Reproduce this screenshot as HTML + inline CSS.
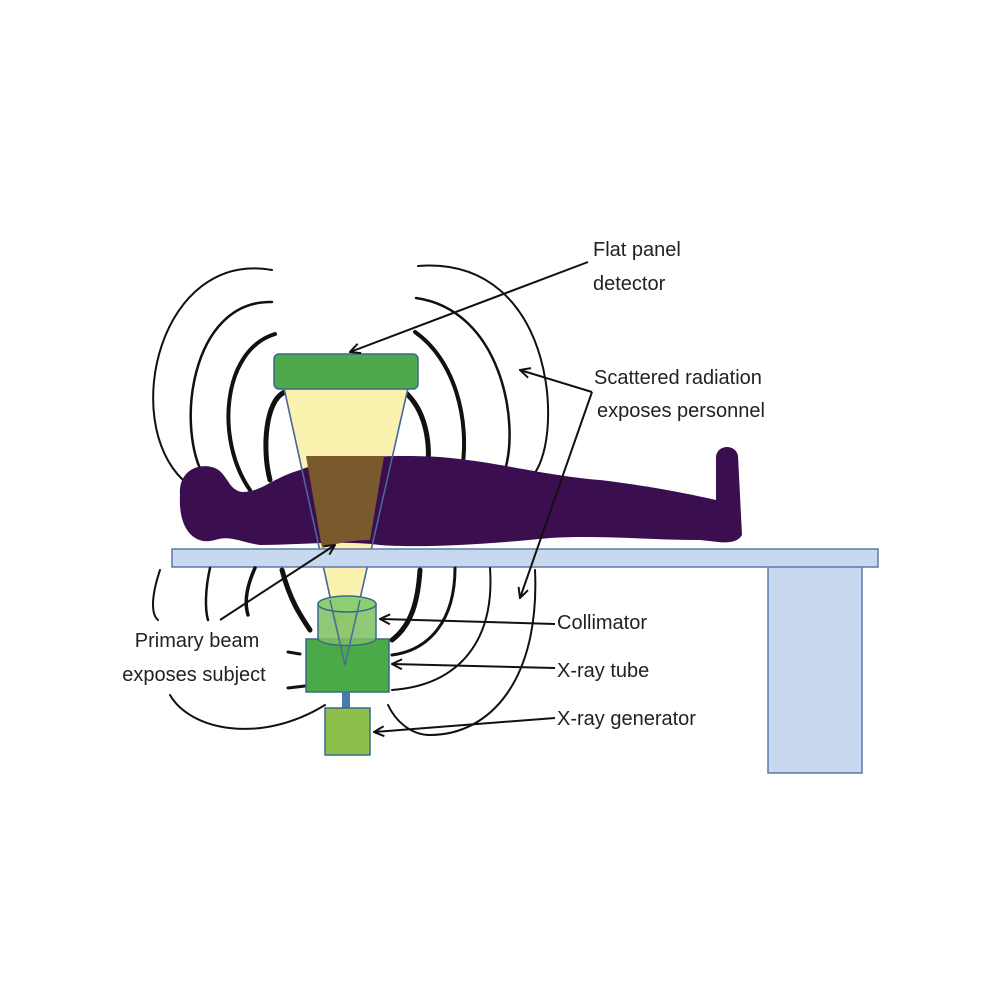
<!DOCTYPE html>
<html><head><meta charset="utf-8"><style>
html,body{margin:0;padding:0;background:#fff;}
svg{display:block;}
text{font-family:"Liberation Sans",sans-serif;font-size:20px;fill:#222;}
</style></head><body>
<svg width="1000" height="1000" viewBox="0 0 1000 1000">
<defs>
<marker id="ah" viewBox="0 0 12 12" refX="11" refY="6" markerWidth="12" markerHeight="12" markerUnits="userSpaceOnUse" orient="auto">
<path d="M1,1 L11,6 L1,11" fill="none" stroke="#111" stroke-width="2"/>
</marker>
</defs>
<rect width="1000" height="1000" fill="#fff"/>

<!-- scatter arcs upper -->
<g fill="none" stroke="#111" stroke-linecap="round">
<path d="M272,270 C160,250 120,420 183,480" stroke-width="2"/>
<path d="M272,302 C190,300 175,430 205,478" stroke-width="2.5"/>
<path d="M275,334 C222,350 215,440 250,490" stroke-width="4"/>
<path d="M285,392 C265,400 262,450 270,480" stroke-width="5"/>
<path d="M418,266 C560,255 565,450 530,478" stroke-width="2"/>
<path d="M416,298 C500,310 520,420 505,470" stroke-width="2.5"/>
<path d="M415,332 C455,360 470,420 462,470" stroke-width="4"/>
<path d="M405,392 C425,410 430,440 428,465" stroke-width="5"/>
</g>

<!-- beam -->
<polygon points="284,388 408,388 345,665" fill="#fcf2b0" stroke="#4a6aa0" stroke-width="1.5"/>

<!-- body -->
<path fill="#3b0f4f" d="M180,495 C178,470 200,462 215,468 C228,474 228,490 242,492 C262,492 272,478 300,470 C330,458 380,454 440,457 C500,462 540,475 600,480 C650,486 690,494 716,500 L716,456 C718,444 736,444 738,456 L742,535 C735,546 720,542 700,540 C650,540 600,535 550,538 C480,545 420,548 380,545 C340,540 300,545 260,545 C240,542 230,535 215,540 C195,546 178,530 180,495 Z"/>
<!-- brown beam part inside body -->
<path fill="#7a5a2c" d="M306,456 L384,456 L370,540 C355,540 340,542 322,548 Z"/>
<path d="M306,456 L384,456" stroke="none"/>
<polygon points="284,388 408,388 345,665" fill="none" stroke="#4a6aa0" stroke-width="1.5"/>

<!-- detector -->
<rect x="274" y="354" width="144" height="35" rx="5" fill="#4ea84c" stroke="#3a6a8a" stroke-width="1.5"/>

<!-- table -->
<rect x="768" y="566" width="94" height="207" fill="#c8d8ee" stroke="#5a7aa8" stroke-width="1.5"/>
<rect x="172" y="549" width="706" height="18" fill="#c8d8ee" stroke="#5a7aa8" stroke-width="1.5"/>

<!-- scatter arcs lower -->
<g fill="none" stroke="#111" stroke-linecap="round">
<path d="M160,570 C150,600 152,615 158,620" stroke-width="2"/>
<path d="M210,568 C205,590 205,610 208,620" stroke-width="2.5"/>
<path d="M255,568 C245,590 245,605 248,615" stroke-width="3.5"/>
<path d="M282,570 C290,600 300,615 310,630" stroke-width="5"/>
<path d="M170,695 C190,730 260,745 325,705" stroke-width="2"/>
<path d="M288,652 L300,654" stroke-width="3"/>
<path d="M288,688 L305,686" stroke-width="3"/>
<path d="M420,570 C418,600 412,625 392,640" stroke-width="5"/>
<path d="M455,568 C455,620 430,650 392,655" stroke-width="3"/>
<path d="M490,568 C495,640 460,685 392,690" stroke-width="2"/>
<path d="M535,570 C540,680 490,735 430,735 C410,735 395,720 388,705" stroke-width="2"/>
</g>

<!-- collimator, tube, generator -->
<rect x="306" y="639" width="83" height="53" fill="#4aaa48" stroke="#3a6a8a" stroke-width="1.5"/>
<path d="M318,604 L318,638 C318,648 376,648 376,638 L376,604 Z" fill="#7cc060" fill-opacity="0.85" stroke="#3a6a8a" stroke-width="1.5"/>
<ellipse cx="347" cy="604" rx="29" ry="8" fill="#8ed070" stroke="#3a6a8a" stroke-width="1.5"/>
<path d="M330,600 L345,665 L360,600" fill="none" stroke="#4a6aa0" stroke-width="1.5"/>
<rect x="342" y="692" width="8" height="16" fill="#4a7ab0"/>
<rect x="325" y="708" width="45" height="47" fill="#8cc04a" stroke="#3a6a8a" stroke-width="1.5"/>

<!-- arrows -->
<g fill="none" stroke="#111" stroke-width="2" marker-end="url(#ah)">
<path d="M588,262 L350,352"/>
<path d="M592,392 L520,370"/>
<path d="M592,392 L520,598"/>
<path d="M220,620 L335,545"/>
<path d="M555,624 L380,619"/>
<path d="M555,668 L392,664"/>
<path d="M555,718 L374,732"/>
</g>

<!-- labels -->
<text x="593" y="256">Flat panel</text>
<text x="593" y="290">detector</text>
<text x="594" y="384">Scattered radiation</text>
<text x="597" y="417">exposes personnel</text>
<text x="197" y="647" text-anchor="middle">Primary beam</text>
<text x="194" y="681" text-anchor="middle">exposes subject</text>
<text x="557" y="629">Collimator</text>
<text x="557" y="677">X-ray tube</text>
<text x="557" y="725">X-ray generator</text>
</svg>
</body></html>
